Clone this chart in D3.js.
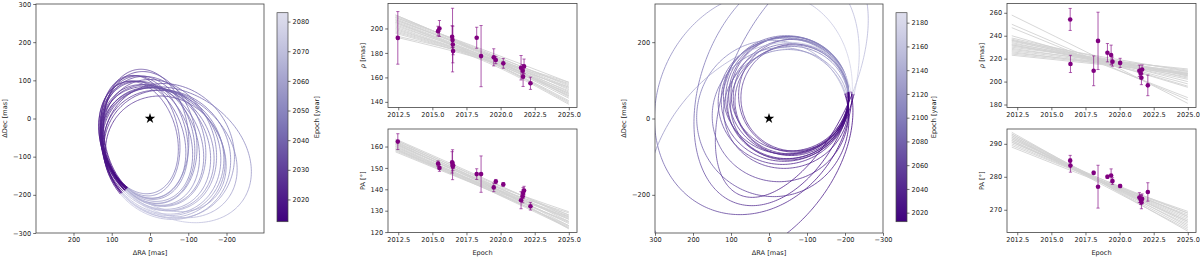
<!DOCTYPE html>
<html>
<head>
<meta charset="utf-8">
<script src="https://cdn.jsdelivr.net/npm/d3@7"></script>
<style>
  body { margin: 0; background: #fff; }
  svg text { font-family: "DejaVu Sans", sans-serif; fill: #222; }
</style>
</head>
<body>
<div id="chart"></div>
<script>
// ---- orbit samples: [centre -RA, centre Dec, semi-axis x, semi-axis y, tilt deg, period yr]
const orbitsA = [
  [-30, -50, 100, 150, 15, 42], [-25, -45, 100, 160, 12, 45], [-20, -55, 108, 158, 18, 47],
  [-15, -50, 110, 165, 15, 48], [-10, -60, 115, 162, 20, 50], [-5, -55, 118, 170, 15, 52],
  [0, -65, 122, 168, 22, 53], [5, -70, 128, 165, 25, 55], [10, -60, 130, 175, 20, 56],
  [15, -75, 135, 170, 28, 57], [20, -80, 140, 168, 30, 58], [25, -70, 142, 178, 25, 60],
  [30, -85, 148, 172, 32, 60], [35, -90, 152, 170, 35, 62], [45, -95, 160, 175, 38, 63],
  [50, -85, 165, 182, 35, 64], [0, -50, 120, 175, 12, 52], [-10, -40, 110, 170, 8, 50],
  [40, -100, 150, 165, 40, 62], [70, -95, 160, 210, 55, 70], [50, -90, 150, 195, 50, 66],
  [35, -80, 140, 185, 45, 63]
];
const orbitsB = [
  [65, 60, 145, 148, 5, 92], [58, 55, 152, 152, 10, 96], [52, 60, 158, 155, 0, 100],
  [60, 50, 150, 142, 15, 94], [48, 55, 162, 160, 8, 106], [55, 65, 155, 150, -5, 100],
  [50, 45, 160, 150, 18, 104], [42, 50, 168, 162, 10, 110], [68, 55, 142, 140, 12, 90],
  [45, 62, 165, 155, 3, 108], [54, 40, 156, 148, 20, 102], [38, 45, 172, 165, 12, 114],
  [45, 25, 165, 155, 15, 120], [30, 10, 180, 175, 20, 130], [10, 0, 200, 205, 15, 140],
  [-41, 40, 251, 300, -25, 170], [-50, -90, 330, 220, 50, 176],
  [20, 80, 200, 320, -20, 160], [60, 100, 160, 330, -25, 150]
];
const startA = [59, -183];   // [RA, Dec] at first epoch
const startB = [-210, 70];
const startEpochA = 2012.5, startEpochB = 2012.4;

// ---- colorbar ranges and ticks
const cbDomainA = [2012.5, 2083];
const cbDomainB = [2012.4, 2188.4];
const cbTicksA = [2020, 2030, 2040, 2050, 2060, 2070, 2080];
const cbTicksB = [2020, 2040, 2060, 2080, 2100, 2120, 2140, 2160, 2180];

// ---- measurements: [epoch, value, error]
const rhoA = [
  [2012.47, 192.3, 21.5], [2015.42, 197.8, 4], [2015.52, 200, 6.5], [2016.45, 193.2, 9],
  [2016.48, 190.5, 26], [2016.5, 186.9, 15], [2016.52, 181.5, 3], [2018.25, 192.4, 8.6],
  [2018.57, 177.4, 25], [2019.5, 176.4, 7], [2019.65, 174.2, 3], [2020.2, 171.5, 4],
  [2021.5, 167.9, 10], [2021.62, 165.5, 5], [2021.65, 160.6, 8], [2021.72, 169, 6],
  [2022.19, 155.2, 5]
];
const paA = [
  [2012.47, 162.3, 3.7], [2015.42, 152, 1.3], [2015.52, 150, 1.6], [2016.45, 152.6, 5],
  [2016.48, 151.5, 7], [2016.5, 150.7, 2], [2016.52, 151.2, 1.5], [2018.25, 147.1, 2.5],
  [2018.57, 147.1, 8.5], [2019.5, 140.9, 2], [2019.65, 143.6, 1], [2020.2, 142.3, 0.8],
  [2021.5, 134.9, 4], [2021.62, 136.7, 3], [2021.65, 138.3, 2.5], [2021.72, 139.4, 2],
  [2022.19, 132.1, 1.8]
];
const rhoB = [
  [2016.38, 254.2, 9.6], [2016.4, 215.4, 7.5], [2018.1, 209.4, 13], [2018.42, 235.5, 25],
  [2019.11, 225.2, 8], [2019.38, 223.2, 8.6], [2019.48, 217.4, 4], [2020.04, 216.3, 4],
  [2021.45, 209.4, 5], [2021.55, 207, 4], [2021.6, 203.3, 6], [2021.65, 210.5, 4],
  [2022.07, 196.7, 9]
];
const paB = [
  [2016.38, 284.9, 1.6], [2016.4, 283.4, 2], [2018.1, 281.2, 0.5], [2018.42, 277, 6.5],
  [2019.11, 280, 0.5], [2019.38, 280.4, 2], [2019.48, 278.7, 1], [2020.04, 277.2, 0.5],
  [2021.45, 273.7, 1.5], [2021.55, 273.1, 1.5], [2021.6, 272.3, 2], [2021.65, 273.3, 1.5],
  [2022.07, 275.4, 2.8]
];

// ---- predicted tracks: values at [first, middle, last] track epoch
const trackEpochsA = [2012.3, 2018.65, 2025.0];
const trackEpochsB = [2012.1, 2018.55, 2025.0];
const rhoTracksA = [
  [211, 181, 150], [210, 182, 153], [209, 180, 148], [208, 179, 146], [207, 180, 152],
  [206, 178, 145], [205, 178, 147], [204, 177, 143], [203, 176, 141], [202, 178, 151],
  [201, 176, 145], [200, 177, 155], [199, 175, 140], [198, 176, 149], [197, 174, 138],
  [196, 175, 147], [194, 177, 156], [193, 175, 152], [209, 183, 156], [207, 181, 154],
  [205, 176, 139], [211, 180, 144]
];
const paTracksA = [
  [163.5, 145.5, 127], [163, 144.5, 125], [162.5, 143.5, 123], [162, 144, 126],
  [161.5, 143, 124], [161, 143.5, 128], [160.5, 142, 122], [160, 142.5, 126],
  [159.5, 142, 124.5], [159, 142.5, 129], [158.5, 141, 123], [158, 141.5, 127],
  [157.5, 141, 125], [162, 143.5, 121.5], [161, 144, 129.5], [163, 145, 128],
  [160, 141.5, 122.5], [158.5, 142, 127.5], [159, 141, 121.8], [161.5, 143, 126.5]
];
const rhoTracksB = [
  [258, 220, 181], [250, 217, 184], [247, 216, 186], [240, 218, 195], [238, 221, 205],
  [237, 219, 200], [236, 222, 209], [235, 220, 205], [234, 218, 202], [233, 220, 207],
  [232, 219, 206], [231, 219, 203], [230, 220, 210], [229, 218, 207], [228, 219, 211],
  [227, 217, 204], [226, 216, 206], [225, 217, 209], [224, 216, 208], [223, 215, 207],
  [236, 218, 198], [232, 217, 196]
];
const paTracksB = [
  [293.5, 278.5, 263.5], [293, 279, 265], [292.5, 279, 266], [292, 279, 266.5],
  [291.5, 279, 267], [291, 279, 267.5], [290.5, 279, 268], [290, 279, 269],
  [289.5, 279, 269.5], [289, 278.5, 268.5], [293, 278.5, 264.5], [292, 278.5, 265.5],
  [291, 278.5, 266.5], [290.5, 279.5, 269], [292.5, 278, 264], [291.5, 279.5, 268]
];

// ---- axis ticks
const epochTicks = [2012.5, 2015.0, 2017.5, 2020.0, 2022.5, 2025.0];
const raTicksA = [200, 100, 0, -100, -200];
const decTicksA = [-300, -200, -100, 0, 100, 200, 300];
const raTicksB = [300, 200, 100, 0, -100, -200, -300];
const decTicksB = [-200, 0, 200];
const rhoTicksA = [140, 160, 180, 200];
const paTicksA = [120, 130, 140, 150, 160];
const rhoTicksB = [180, 200, 220, 240, 260];
const paTicksB = [270, 280, 290];

const FS = 6.6;
const svg = d3.select("#chart").append("svg").attr("width", 1200).attr("height", 258);
const fmtInt = d3.format("d");

function styleAxis(g) {
  g.select(".domain").remove();
  g.selectAll(".tick line").attr("stroke", "#333").attr("stroke-width", 0.7);
  g.selectAll(".tick text").style("font-size", FS + "px").style("fill", "#222");
}

function frame(x0, y0, x1, y1) {
  svg.append("rect").attr("x", x0).attr("y", y0).attr("width", x1 - x0).attr("height", y1 - y0)
    .attr("fill", "none").attr("stroke", "#444").attr("stroke-width", 0.8);
}

function drawOrbitPanel(p) {
  const x = d3.scaleLinear().domain(p.xDomain).range([p.x0, p.x1]);
  const y = d3.scaleLinear().domain(p.yDomain).range([p.y1, p.y0]);
  const tScale = d3.scaleLinear().domain(p.cbDomain).range([1, 0.22]);
  const color = e => d3.interpolatePurples(tScale(e));

  const clipId = "clip" + p.id;
  svg.append("clipPath").attr("id", clipId).append("rect")
    .attr("x", p.x0).attr("y", p.y0).attr("width", p.x1 - p.x0).attr("height", p.y1 - p.y0);
  const g = svg.append("g").attr("clip-path", `url(#${clipId})`);

  const N = 260;
  p.orbits.forEach(o => {
    const [cu, cv, rx, ry, rot, period] = o;
    const th = rot * Math.PI / 180;
    const pos = phi => {
      const a = rx * Math.cos(phi), b = ry * Math.sin(phi);
      const u = cu + a * Math.cos(th) - b * Math.sin(th);
      const v = cv + a * Math.sin(th) + b * Math.cos(th);
      return [-u, v];
    };
    // phase closest to the first measured position
    const phis = d3.range(0, 2 * Math.PI, Math.PI / 180);
    const phi0 = d3.least(phis, f => {
      const q = pos(f);
      return (q[0] - p.start[0]) ** 2 + (q[1] - p.start[1]) ** 2;
    });
    const pts = d3.range(N + 1).map(k => pos(phi0 - 2 * Math.PI * k / N));
    for (let k = 0; k < N; k++) {
      const ep = p.startEpoch + period * (k + 0.5) / N;
      g.append("line")
        .attr("x1", x(pts[k][0])).attr("y1", y(pts[k][1]))
        .attr("x2", x(pts[k + 1][0])).attr("y2", y(pts[k + 1][1]))
        .attr("stroke", color(ep)).attr("stroke-width", 0.8);
    }
  });

  svg.append("path")
    .attr("d", d3.symbol(d3.symbolStar).size(34)())
    .attr("transform", `translate(${x(0)},${y(0)})`)
    .attr("fill", "#000");

  frame(p.x0, p.y0, p.x1, p.y1);
  svg.append("g").attr("transform", `translate(0,${p.y1})`)
    .call(d3.axisBottom(x).tickValues(p.xTicks).tickFormat(fmtInt).tickSize(2.8).tickPadding(2))
    .call(styleAxis);
  svg.append("g").attr("transform", `translate(${p.x0},0)`)
    .call(d3.axisLeft(y).tickValues(p.yTicks).tickFormat(fmtInt).tickSize(2.8).tickPadding(2))
    .call(styleAxis);

  svg.append("text").attr("x", (p.x0 + p.x1) / 2).attr("y", 254.5)
    .attr("text-anchor", "middle").style("font-size", FS + "px").text("ΔRA [mas]");
  svg.append("text").attr("transform", `translate(${p.yLabelX},${(p.y0 + p.y1) / 2}) rotate(-90)`)
    .attr("text-anchor", "middle").style("font-size", FS + "px").text("ΔDec [mas]");

  // colorbar
  const cb = p.cb;
  const cy = d3.scaleLinear().domain(p.cbDomain).range([cb.y1, cb.y0]);
  const grad = svg.append("defs").append("linearGradient").attr("id", "grad" + p.id)
    .attr("x1", 0).attr("y1", 1).attr("x2", 0).attr("y2", 0);
  d3.range(0, 1.0001, 0.05).forEach(f => {
    const e = p.cbDomain[0] + f * (p.cbDomain[1] - p.cbDomain[0]);
    grad.append("stop").attr("offset", f).attr("stop-color", color(e));
  });
  svg.append("rect").attr("x", cb.x0).attr("y", cb.y0).attr("width", cb.x1 - cb.x0)
    .attr("height", cb.y1 - cb.y0).attr("fill", `url(#grad${p.id})`)
    .attr("stroke", "#444").attr("stroke-width", 0.7);
  svg.append("g").attr("transform", `translate(${cb.x1},0)`)
    .call(d3.axisRight(cy).tickValues(p.cbTicks).tickFormat(fmtInt).tickSize(2.5).tickPadding(2))
    .call(styleAxis);
  svg.append("text").attr("transform", `translate(${cb.labelX},${(cb.y0 + cb.y1) / 2}) rotate(-90)`)
    .attr("text-anchor", "middle").style("font-size", FS + "px").text("Epoch [year]");
}

function drawSeriesPanel(p) {
  const x = d3.scaleLinear().domain(p.xDomain).range([p.x0, p.x1]);
  const y = d3.scaleLinear().domain(p.yDomain).range([p.y1, p.y0]);
  const clipId = "clipS" + p.id;
  svg.append("clipPath").attr("id", clipId).append("rect")
    .attr("x", p.x0).attr("y", p.y0).attr("width", p.x1 - p.x0).attr("height", p.y1 - p.y0);
  const g = svg.append("g").attr("clip-path", `url(#${clipId})`);

  const line = d3.line().curve(d3.curveNatural)
    .x((d, i) => x(p.trackEpochs[i])).y(d => y(d));
  g.selectAll(".track").data(p.tracks).enter().append("path")
    .attr("d", line).attr("fill", "none").attr("stroke", "#d3d3d3").attr("stroke-width", 0.9);

  const bars = g.selectAll(".bar").data(p.points).enter().append("g");
  bars.append("line")
    .attr("x1", d => x(d[0])).attr("x2", d => x(d[0]))
    .attr("y1", d => y(d[1] - d[2])).attr("y2", d => y(d[1] + d[2]))
    .attr("stroke", "#800080").attr("stroke-opacity", 0.65).attr("stroke-width", 1);
  [-1, 1].forEach(s => {
    bars.append("line")
      .attr("x1", d => x(d[0]) - 1.6).attr("x2", d => x(d[0]) + 1.6)
      .attr("y1", d => y(d[1] + s * d[2])).attr("y2", d => y(d[1] + s * d[2]))
      .attr("stroke", "#800080").attr("stroke-opacity", 0.75).attr("stroke-width", 0.8);
  });
  g.selectAll(".pt").data(p.points).enter().append("circle")
    .attr("cx", d => x(d[0])).attr("cy", d => y(d[1])).attr("r", 2.3)
    .attr("fill", "#800080");

  frame(p.x0, p.y0, p.x1, p.y1);
  svg.append("g").attr("transform", `translate(0,${p.y1})`)
    .call(d3.axisBottom(x).tickValues(epochTicks).tickFormat(d3.format(".1f")).tickSize(2.8).tickPadding(2))
    .call(styleAxis);
  svg.append("g").attr("transform", `translate(${p.x0},0)`)
    .call(d3.axisLeft(y).tickValues(p.yTicks).tickFormat(fmtInt).tickSize(2.8).tickPadding(2))
    .call(styleAxis);

  const lab = svg.append("text")
    .attr("transform", `translate(${p.x0 - 23},${(p.y0 + p.y1) / 2}) rotate(-90)`)
    .attr("text-anchor", "middle").style("font-size", FS + "px");
  if (p.label === "rho") {
    lab.append("tspan").style("font-style", "italic").text("ρ");
    lab.append("tspan").text(" [mas]");
  } else {
    lab.text("PA [°]");
  }
  if (p.xLabel) {
    svg.append("text").attr("x", (p.x0 + p.x1) / 2).attr("y", 254.5)
      .attr("text-anchor", "middle").style("font-size", FS + "px").text("Epoch");
  }
}

drawOrbitPanel({
  id: "A", x0: 36, x1: 264, y0: 4, y1: 233,
  xDomain: [298, -298], yDomain: [-300, 300],
  xTicks: raTicksA, yTicks: decTicksA, yLabelX: 7,
  orbits: orbitsA, start: startA, startEpoch: startEpochA,
  cbDomain: cbDomainA, cbTicks: cbTicksA,
  cb: { x0: 277, x1: 288, y0: 12.7, y1: 221.7, labelX: 319 }
});
drawOrbitPanel({
  id: "B", x0: 655, x1: 883, y0: 4, y1: 233,
  xDomain: [300, -300], yDomain: [-300, 300],
  xTicks: raTicksB, yTicks: decTicksB, yLabelX: 626,
  orbits: orbitsB, start: startB, startEpoch: startEpochB,
  cbDomain: cbDomainB, cbTicks: cbTicksB,
  cb: { x0: 896, x1: 907, y0: 12.7, y1: 221.7, labelX: 936 }
});

const epochDomain = [2011.75, 2025.6];
drawSeriesPanel({ id: "A1", x0: 388, x1: 577, y0: 3.5, y1: 107.5, xDomain: epochDomain,
  yDomain: [135.4, 220.4], yTicks: rhoTicksA, points: rhoA, tracks: rhoTracksA,
  trackEpochs: trackEpochsA, label: "rho" });
drawSeriesPanel({ id: "A2", x0: 388, x1: 577, y0: 129, y1: 232.5, xDomain: epochDomain,
  yDomain: [119.8, 168.2], yTicks: paTicksA, points: paA, tracks: paTracksA,
  trackEpochs: trackEpochsA, label: "pa", xLabel: true });
drawSeriesPanel({ id: "B1", x0: 1007, x1: 1196, y0: 3.5, y1: 107.5, xDomain: epochDomain,
  yDomain: [177.4, 268.1], yTicks: rhoTicksB, points: rhoB, tracks: rhoTracksB,
  trackEpochs: trackEpochsB, label: "rho" });
drawSeriesPanel({ id: "B2", x0: 1007, x1: 1196, y0: 129, y1: 232.5, xDomain: epochDomain,
  yDomain: [263.1, 294.5], yTicks: paTicksB, points: paB, tracks: paTracksB,
  trackEpochs: trackEpochsB, label: "pa", xLabel: true });
</script>
</body>
</html>
